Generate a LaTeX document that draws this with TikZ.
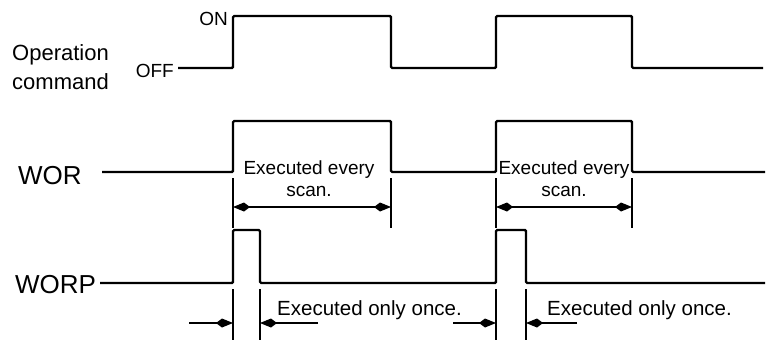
\documentclass[tikz,border=0pt]{standalone}
\usepackage{fontspec}
\setmainfont{Liberation Sans}
\usetikzlibrary{arrows.meta}
\begin{document}
\begin{tikzpicture}[x=1pt,y=-1pt,
  sig/.style={line width=2.4pt,rounded corners=1.2pt},
  ext/.style={line width=1.3pt},
  dim/.style={line width=1.3pt},
  ah/.tip={Kite[length=17pt,width=9pt,inset=6pt]},
  lbl/.style={inner sep=0pt,anchor=west},
  big/.style={font=\fontsize{26}{28}\selectfont},
  mid/.style={font=\fontsize{22}{29}\selectfont,align=left},
  ev/.style={font=\fontsize{19}{21}\selectfont,inner sep=0pt},
  on/.style={font=\fontsize{19}{19}\selectfont,inner sep=0pt}
]
\useasboundingbox (0,0) rectangle (767,340);

% labels
\node[lbl,mid] (opc) at (12,67) {Operation\\command};
\node[lbl,big] (wor) at (18,176) {WOR};
\node[lbl,big] (worp) at (15,285) {WORP};
\node[on,anchor=east] (on) at (228,19) {ON};
\node[on,anchor=east] (off) at (174,71) {OFF};

% operation command
\coordinate (a0) at (178,68);
\coordinate (a1) at (763,68);
\draw[sig] (a0) -- (233,68) -- (233,16) -- (391,16) -- (391,68) -- (496,68) -- (496,16) -- (632,16) -- (632,68) -- (a1);

% WOR
\coordinate (b0) at (102,172);
\coordinate (b1) at (765,172);
\draw[sig] (b0) -- (233,172) -- (233,121) -- (391,121) -- (391,172) -- (496,172) -- (496,121) -- (632,121) -- (632,172) -- (b1);

% WORP
\coordinate (c0) at (100,283);
\coordinate (c1) at (765,283);
\draw[sig] (c0) -- (233,283) -- (233,230) -- (260,230) -- (260,283) -- (496,283) -- (496,230) -- (526,230) -- (526,283) -- (c1);

% WOR dimension
\coordinate (e1t) at (233,178); \coordinate (e1b) at (233,228);
\coordinate (e2t) at (391,178); \coordinate (e2b) at (391,228);
\coordinate (e3t) at (496,178); \coordinate (e3b) at (496,228);
\coordinate (e4t) at (632,178); \coordinate (e4b) at (632,228);
\draw[ext] (e1t) -- (e1b); \draw[ext] (e2t) -- (e2b);
\draw[ext] (e3t) -- (e3b); \draw[ext] (e4t) -- (e4b);
\coordinate (d1a) at (233,207); \coordinate (d1b) at (391,207);
\coordinate (d2a) at (496,207); \coordinate (d2b) at (632,207);
\draw[dim,ah-ah] (d1a) -- (d1b);
\draw[dim,ah-ah] (d2a) -- (d2b);
\node[ev,align=center] (t1) at (309,179) {Executed every\\[1pt]scan.};
\node[ev,align=center] (t2) at (564,179) {Executed every\\[1pt]scan.};

% WORP dimension
\coordinate (f1t) at (233,289); \coordinate (f1b) at (233,340);
\coordinate (f2t) at (260,289); \coordinate (f2b) at (260,340);
\coordinate (f3t) at (496,289); \coordinate (f3b) at (496,340);
\coordinate (f4t) at (526,289); \coordinate (f4b) at (526,340);
\draw[ext] (f1t) -- (f1b); \draw[ext] (f2t) -- (f2b);
\draw[ext] (f3t) -- (f3b); \draw[ext] (f4t) -- (f4b);
\coordinate (g1) at (189,323); \coordinate (g2) at (233,323);
\coordinate (g3) at (318,323); \coordinate (g4) at (260,323);
\coordinate (g5) at (453,323); \coordinate (g6) at (496,323);
\coordinate (g7) at (577,323); \coordinate (g8) at (526,323);
\draw[dim,-ah] (g1) -- (g2);
\draw[dim,-ah] (g3) -- (g4);
\draw[dim,-ah] (g5) -- (g6);
\draw[dim,-ah] (g7) -- (g8);
\node[ev,font=\fontsize{20.5}{22}\selectfont,anchor=west] (o1) at (277,310) {Executed only once.};
\node[ev,font=\fontsize{20.5}{22}\selectfont,anchor=west] (o2) at (547,310) {Executed only once.};
\end{tikzpicture}
\end{document}
